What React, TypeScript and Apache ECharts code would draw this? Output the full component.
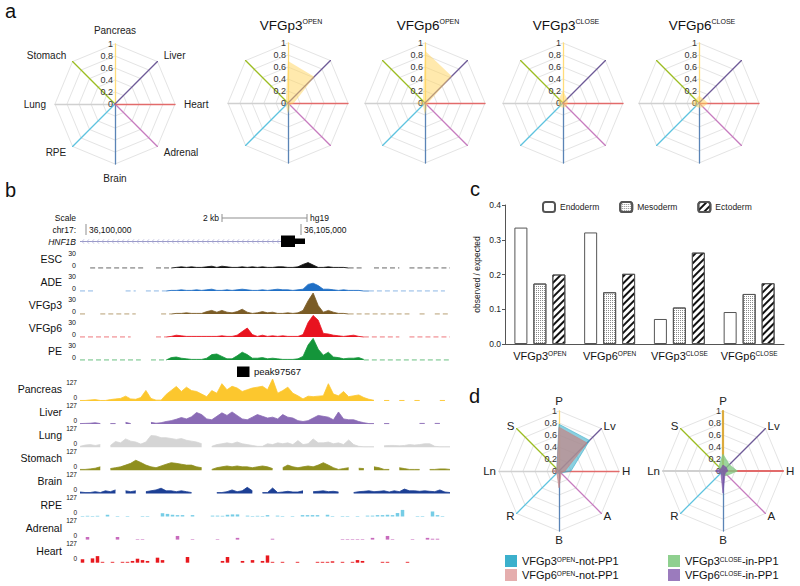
import React, { useEffect, useRef } from 'react';
import * as echarts from 'echarts';

const FONT = '"Liberation Sans", Arial, Helvetica, sans-serif';
const _ = null;

// ---------- Panel a / d radar data (ECharts order, counter-clockwise from top) ----------
const tissues = ['Pancreas', 'Stomach', 'Lung', 'RPE', 'Brain', 'Adrenal', 'Heart', 'Liver'];
const tissueAbbr = ['P', 'S', 'Ln', 'R', 'B', 'A', 'H', 'Lv'];

const aTitles = ['VFGp3^OPEN', 'VFGp6^OPEN', 'VFGp3^CLOSE', 'VFGp6^CLOSE'];
const aVFGp3Open = [0.7, 0.05, 0.03, 0.05, 0.18, 0.05, 0.1, 0.62];
const aVFGp6Open = [0.87, 0.05, 0.15, 0.05, 0.2, 0.05, 0.05, 0.63];
const aVFGp3Close = [0.2, 0.1, 0.08, 0.08, 0.08, 0.08, 0.08, 0.1];
const aVFGp6Close = [0.12, 0.08, 0.13, 0.08, 0.08, 0.1, 0.15, 0.1];

const dNames = ['VFGp3^OPEN-not-PP1', 'VFGp6^OPEN-not-PP1', 'VFGp3^CLOSE-in-PP1', 'VFGp6^CLOSE-in-PP1'];
const dOpen3 = [0.78, 0.05, 0.03, 0.03, 0.05, 0.05, 0.2, 0.72];
const dOpen6 = [0.73, 0.05, 0.1, 0.05, 0.28, 0.05, 0.1, 0.66];
const dClose3 = [0.28, 0.1, 0.05, 0.05, 0.08, 0.1, 0.24, 0.15];
const dClose6 = [0.1, 0.05, 0.13, 0.05, 0.37, 0.05, 0.08, 0.08];

// ---------- Panel c ----------
const barCategories = ['VFGp3^OPEN', 'VFGp6^OPEN', 'VFGp3^CLOSE', 'VFGp6^CLOSE'];
const layerNames = ['Endoderm', 'Mesoderm', 'Ectoderm'];
const endoderm = [0.335, 0.321, 0.072, 0.092];
const mesoderm = [0.174, 0.149, 0.105, 0.144];
const ectoderm = [0.2, 0.202, 0.263, 0.175];
const barTicks = [0, 0.1, 0.2, 0.3, 0.4];

// ---------- Panel b tracks (74 bins of ~5 px, chr17 window) ----------
const upperNames = ['ESC', 'ADE', 'VFGp3', 'VFGp6', 'PE'];
const upperMax = 30;
const escMain = [_,_,_,_,_,_,_,_,_,_, _,_,_,_,_,_,_,_,0,1, 2,1,2,1,1,2,3,1,3,2, 1,1,2,1,2,1,2,1,1,2, 2,1,1,2,6,9,5,1,1,2, 1,1,1,0,_,_,_,_,_,_, _,_,_,_,_,_,_,_,_,_, _,_,_,_];
const escFaint = [_,_,0,0,0,0,0,0,0,0, 0,0,0,0,_,0,0,0,0,_, _,_,_,_,_,_,_,_,_,_, _,_,_,_,_,_,_,_,_,_, _,_,_,_,_,_,_,_,_,_, _,_,_,0,0,0,0,_,0,0, 0,0,0,0,_,0,0,0,0,0, 0,0,0,0];
const adeMain = [_,_,_,_,_,_,_,_,_,_, _,_,_,_,_,_,_,0,1,1, 2,1,1,2,1,2,3,1,1,2, 1,2,3,2,1,1,2,1,2,3, 2,2,1,2,3,11,13,9,3,3, 2,1,2,1,1,1,0,0,_,_, _,_,_,_,_,_,_,_,_,_, _,_,_,_];
const adeFaint = [0,0,0,0,_,_,_,_,_,0, 0,0,_,0,0,0,0,0,_,_, _,_,_,_,_,_,_,_,_,_, _,_,_,_,_,_,_,_,_,_, _,_,_,_,_,_,_,_,_,_, _,_,_,_,_,_,_,0,0,0, 0,0,0,0,0,0,0,0,0,0, 0,0,0,_];
const vfgp3Main = [_,_,_,_,_,_,_,_,_,_, _,_,_,_,_,_,_,_,0,1, 1,2,1,1,1,4,6,3,6,3, 2,4,8,3,1,2,4,2,3,1, 1,2,1,2,6,22,35,14,3,6, 3,1,1,0,_,_,_,_,_,_, _,_,_,_,_,_,_,_,_,_, _,_,_,_];
const vfgp3Faint = [0,0,_,_,0,0,0,0,0,0, 0,0,_,_,_,_,0,0,0,_, _,_,_,_,_,_,_,_,_,_, _,_,_,_,_,_,_,_,_,_, _,_,_,_,_,_,_,_,_,_, _,_,_,0,0,0,0,0,0,0, 0,0,0,0,0,0,_,0,0,_, 0,0,0,0];
const vfgp6Main = [_,_,_,_,_,_,_,_,_,_, _,_,_,_,_,_,_,0,1,3, 2,1,1,1,1,1,1,1,2,1, 1,3,9,15,4,1,3,1,2,1, 2,1,1,1,4,24,36,28,6,5, 3,2,1,2,3,1,0,_,_,_, _,_,_,_,_,_,_,_,_,_, _,_,_,_];
const vfgp6Faint = [0,0,0,0,0,0,0,0,0,0, 0,_,_,_,_,0,0,0,_,_, _,_,_,_,_,_,_,_,_,_, _,_,_,_,_,_,_,_,_,_, _,_,_,_,_,_,_,_,_,_, _,_,_,_,_,_,0,0,0,0, 0,0,0,0,_,0,0,0,0,0, 0,0,0,0];
const peMain = [_,_,_,_,_,_,_,_,_,_, _,_,_,_,_,_,_,0,4,5, 3,2,1,1,1,3,9,10,6,2, 2,7,13,9,3,3,4,2,3,2, 1,1,1,2,6,25,36,18,8,13, 5,4,2,3,3,4,1,_,_,_, _,_,_,_,_,_,_,_,_,_, _,_,_,_];
const peFaint = [0,0,0,0,0,0,0,0,0,0, 0,0,0,_,0,0,0,0,_,_, _,_,_,_,_,_,_,_,_,_, _,_,_,_,_,_,_,_,_,_, _,_,_,_,_,_,_,_,_,_, _,_,_,_,_,_,0,0,0,0, 0,0,0,0,0,0,0,0,0,0, 0,0,0,0];

const lowerNames = ['Pancreas', 'Liver', 'Lung', 'Stomach', 'Brain', 'RPE', 'Adrenal', 'Heart'];
const lowerMax = 127;
const pancreas = [3,3,6,8,3,3,8,12,15,28, 12,10,20,61,15,5,5,38,61,84, 55,80,60,55,40,25,60,45,100,65, 85,75,55,65,75,80,85,65,127,45, 60,80,45,30,12,28,25,28,30,100, 40,30,55,25,30,35,20,10,4,_, 3,3,_,3,3,_,3,3,_,_, _,3,3,_];
const liver = [3,4,5,8,3,_,3,3,_,10, 3,_,_,_,10,5,8,15,20,28, 38,30,42,67,55,30,25,45,65,50, 70,50,30,25,40,55,45,35,40,30, 55,40,35,20,15,20,35,50,45,40, 25,70,30,25,25,15,8,3,3,_, 3,3,_,_,_,_,_,4,4,_, 4,4,_,_];
const lung = [5,12,15,10,15,_,10,33,25,48, 35,30,18,30,67,65,55,55,50,45, 50,40,35,30,20,_,5,15,20,25, 20,30,20,15,10,5,5,20,15,25, 20,25,15,38,15,20,48,25,25,30, 20,25,15,42,15,5,3,3,3,_, 8,10,10,8,10,15,12,15,20,20, 5,3,3,3];
const stomach = [5,5,8,12,20,_,10,15,20,30, 40,58,45,30,20,15,25,35,44,40, 35,30,30,20,15,_,5,15,20,25, 20,25,20,20,15,20,25,20,10,_, 15,30,20,15,20,25,20,30,44,30, 15,5,10,15,_,12,10,_,20,15, 5,5,_,15,10,5,5,5,_,5, 5,8,8,5];
const brain = [8,5,5,10,5,15,10,20,_,15, 10,15,_,10,15,20,30,15,15,10, 15,10,5,_,_,_,_,5,5,10, 20,10,15,35,15,_,5,5,31,5, 8,12,8,8,15,_,10,12,15,10, 12,8,_,_,5,10,12,15,10,12, 15,8,15,10,25,15,15,12,15,12, 10,20,8,5];
const rpe = [3,4,3,4,_,10,_,3,_,3, _,_,3,3,_,_,19,15,10,8, 8,_,8,_,_,_,5,5,4,10, 12,12,_,5,3,4,3,8,_,5, 3,_,3,_,8,8,8,8,_,10, 3,_,3,3,_,3,_,5,5,8, 8,10,8,20,38,_,_,3,3,_, 29,8,3,_];
const adrenal = [_,15,_,_,_,_,_,15,_,_, _,3,3,_,_,_,_,_,_,21, _,_,3,_,_,_,_,3,_,_, _,10,_,_,_,_,_,_,5,_, _,_,_,_,_,_,_,_,_,_, _,_,3,3,3,3,3,_,10,_, _,21,3,_,_,_,3,_,_,10, 5,5,_,_];
const heart = [20,_,25,38,5,_,5,_,5,5, 10,23,15,10,_,29,15,_,_,_, _,33,_,_,_,_,_,_,10,33, _,_,10,_,15,_,10,42,5,_, 5,_,_,5,_,_,_,5,5,5, 8,_,5,_,5,15,10,_,_,_, 5,5,_,_,_,5,_,_,_,_, _,_,_,_];

const upperMain = [escMain, adeMain, vfgp3Main, vfgp6Main, peMain];
const upperFaint = [escFaint, adeFaint, vfgp3Faint, vfgp6Faint, peFaint];
const lowerData = [pancreas, liver, lung, stomach, brain, rpe, adrenal, heart];

// ---------- styles ----------
const spokeColors = ['#ffdc7a', '#9cbd22', '#d0d0d0', '#5ec3df', '#5a84b6', '#c77cbf', '#e26b6b', '#6f5b98'];
const upperColors = ['#111111', '#1f6fc5', '#7b5c26', '#e8131f', '#14953a'];
const upperFaintColors = ['#8c8c8c', '#a9c9ec', '#c9b796', '#f2989c', '#8fd0a0'];
const lowerColors = ['#fcc72e', '#8a6bb5', '#d5d5d5', '#8f8f1f', '#1c3f94', '#76cde6', '#c86bbd', '#e8191f'];
const sparseTracks = ['RPE', 'Adrenal', 'Heart'];

function richLabel(s: string) {
  const parts = s.split('^');
  if (parts.length === 1) return `{m|${s}}`;
  const m = parts[1].match(/^([A-Z]+)(.*)$/);
  if (!m) return `{m|${parts[0]}}{s|${parts[1]}}`;
  return `{m|${parts[0]}}{s|${m[1]}}` + (m[2] ? `{m|${m[2]}}` : '');
}

function makeRadar(center: number[], names: string[] | null, nameSize: number, nameGap: number, boldSpokes: boolean) {
  return {
    center,
    radius: 60,
    startAngle: 90,
    splitNumber: 5,
    shape: 'polygon',
    nameGap,
    axisName: { show: !!names, color: '#222', fontSize: nameSize, fontFamily: FONT },
    indicator: tissues.map((t, k) => ({
      name: names ? names[k] : '',
      min: 0,
      max: 1,
      axisLine: {
        lineStyle: {
          color: boldSpokes && k === 0 ? '#dcab3e' : spokeColors[k],
          width: boldSpokes && (k === 0 || k === 2 || k === 6) ? 2.2 : 1.3,
        },
      },
      axisLabel: { show: k === 0 },
    })),
    splitLine: { lineStyle: { color: '#e4e4e4', width: 1 } },
    splitArea: { show: false },
    axisLine: { show: true, lineStyle: { color: '#ccc', width: 1.3 } },
    axisTick: { show: false },
    axisLabel: { show: false, color: '#333', fontSize: 9, fontFamily: FONT, margin: 2 },
  };
}

function buildOption() {
  const radarCenters = [[115, 104], [288, 103], [425, 103], [563, 103], [699, 103], [559, 471], [723, 471]];
  const radar = radarCenters.map((c, i) =>
    makeRadar(c, i === 0 ? tissues : i >= 5 ? tissueAbbr : null, i >= 5 ? 11.5 : 10, i >= 5 ? 3 : 9, i === 6));

  const series: any[] = [];
  const aSets = [aVFGp3Open, aVFGp6Open, aVFGp3Close, aVFGp6Close];
  aSets.forEach((v, i) => {
    series.push({
      type: 'radar', radarIndex: i + 1, symbol: 'none', silent: true,
      lineStyle: { width: 0, opacity: 0 },
      areaStyle: { color: '#ffd35c', opacity: 0.5 },
      data: [{ value: v, name: aTitles[i] }],
    });
  });
  const dSets = [dOpen3, dOpen6, dClose3, dClose6];
  const dColors = ['#3cb0cc', '#c48585', '#84c984', '#7a52a6'];
  const dSwatch = ['#3cb0cc', '#e5aeae', '#8fd08f', '#9b7bbd'];
  const dOpacity = [0.6, 0.7, 0.8, 0.8];
  dSets.forEach((v, i) => {
    series.push({
      type: 'radar', name: dNames[i], radarIndex: i < 2 ? 5 : 6, symbol: 'none', silent: true,
      itemStyle: { color: dSwatch[i] },
      lineStyle: { width: 0.6, color: dColors[i] },
      areaStyle: { color: dColors[i], opacity: dOpacity[i] },
      data: [{ value: v, name: dNames[i], itemStyle: { color: dSwatch[i] } }],
    });
  });

  // tracks
  const grid: any[] = [];
  const xAxis: any[] = [];
  const yAxis: any[] = [];
  const bins = upperMain[0].map((_v, i) => String(i));
  const graphic: any[] = [];
  const txt = (text: string, x: number, y: number, size: number, align = 'left', extra: any = {}) => ({
    type: 'text', silent: true,
    style: { text, x, y, fontSize: size, fontFamily: FONT, fill: '#111', align, verticalAlign: 'middle', ...extra },
  });

  upperNames.forEach((name, i) => {
    const base = 268 + 23 * i;
    grid.push({ left: 80, width: 370, top: base - 18, height: 18 });
    xAxis.push({ type: 'category', gridIndex: i, data: bins, show: false, boundaryGap: false });
    yAxis.push({ type: 'value', gridIndex: i, min: 0, max: upperMax, show: false });
    series.push({
      type: 'line', xAxisIndex: i, yAxisIndex: i, data: upperFaint[i], symbol: 'none', silent: true,
      lineStyle: { color: upperFaintColors[i], width: 1.3, type: [5, 3] }, z: 2,
    });
    series.push({
      type: 'line', xAxisIndex: i, yAxisIndex: i, data: upperMain[i], symbol: 'none', silent: true, clip: false,
      lineStyle: { color: upperColors[i], width: 0.8 }, areaStyle: { color: upperColors[i], opacity: 1 }, z: 3,
    });
    graphic.push(txt(name, 62, base - 9, 10.5, 'right'));
    graphic.push(txt(String(upperMax), 76, base - 15, 7, 'right'));
    graphic.push(txt('0', 76, base - 3, 7, 'right'));
  });
  lowerNames.forEach((name, j) => {
    const i = j + 5;
    const base = 401 + 23.1 * j;
    const sparse = sparseTracks.includes(name);
    grid.push({ left: 80, width: 370, top: base - 22, height: 22 });
    xAxis.push({ type: 'category', gridIndex: i, data: bins, show: false, boundaryGap: sparse });
    yAxis.push({ type: 'value', gridIndex: i, min: 0, max: lowerMax, show: false });
    if (sparse) {
      series.push({
        type: 'bar', xAxisIndex: i, yAxisIndex: i, data: lowerData[j], barWidth: 3.5, silent: true,
        itemStyle: { color: lowerColors[j] },
      });
    } else {
      series.push({
        type: 'line', xAxisIndex: i, yAxisIndex: i, data: lowerData[j], symbol: 'none', silent: true, clip: false,
        lineStyle: { color: lowerColors[j], width: 0.8 }, areaStyle: { color: lowerColors[j], opacity: 1 },
      });
    }
    graphic.push(txt(name, 62, base - 12, 10.5, 'right'));
    graphic.push(txt(String(lowerMax), 77, base - 19, 6.5, 'right'));
    graphic.push(txt('0', 77, base - 4, 6.5, 'right'));
  });

  // bar chart (panel c)
  const gi = grid.length;
  grid.push({ left: 505, top: 205, width: 279, height: 139 });
  const richAxis = {
    m: { fontSize: 11, fontFamily: FONT, color: '#111' },
    s: { fontSize: 6.5, fontFamily: FONT, color: '#111', verticalAlign: 'top' },
  };
  xAxis.push({
    type: 'category', gridIndex: gi, data: barCategories,
    axisLine: { lineStyle: { color: '#555', width: 1 } },
    axisTick: { alignWithLabel: true, length: 4, lineStyle: { color: '#555' } },
    axisLabel: { formatter: (v: string) => richLabel(v), rich: richAxis, margin: 6, interval: 0 },
  });
  yAxis.push({
    type: 'value', gridIndex: gi, min: barTicks[0], max: barTicks[barTicks.length - 1], interval: 0.1,
    axisLine: { show: true, lineStyle: { color: '#555', width: 1 } },
    axisTick: { show: true, length: 3, lineStyle: { color: '#555' } },
    splitLine: { show: false },
    axisLabel: { formatter: (v: number) => v.toFixed(1), fontSize: 8.5, fontFamily: FONT, color: '#222', margin: 4 },
    name: 'observed / expected', nameLocation: 'middle', nameGap: 24, nameRotate: 90,
    nameTextStyle: { fontSize: 8.5, fontFamily: FONT, color: '#222' },
  });
  const hatch = {
    symbol: 'rect', symbolSize: 1, color: '#111', backgroundColor: 'rgba(255,255,255,0)',
    dashArrayX: [1, 0], dashArrayY: [1.6, 2.2], rotation: -Math.PI / 4,
  };
  const dots = {
    symbol: 'rect', symbolSize: 1, color: '#8a8a8a', backgroundColor: 'rgba(255,255,255,0)',
    dashArrayX: [1, 1], dashArrayY: [1, 1], rotation: 0,
  };
  const layerData = [endoderm, mesoderm, ectoderm];
  const layerDecal = [undefined, dots, hatch];
  layerNames.forEach((n, k) => {
    const itemStyle: any = { color: '#fff', borderColor: '#555', borderWidth: 1 };
    if (layerDecal[k]) itemStyle.decal = layerDecal[k];
    series.push({
      type: 'bar', name: n, xAxisIndex: gi, yAxisIndex: gi, data: layerData[k], barWidth: 13, barGap: '46%',
      silent: true, itemStyle,
    });
  });

  // panel letters & titles
  graphic.push(txt('a', 5, 11, 20));
  graphic.push(txt('b', 5, 190, 20));
  graphic.push(txt('c', 470, 189, 20));
  graphic.push(txt('d', 469, 396, 20));
  aTitles.forEach((t, i) => {
    graphic.push({
      type: 'text', silent: true,
      style: {
        text: richLabel(t), x: radarCenters[i + 1][0] + 3, y: 25, align: 'center', verticalAlign: 'middle',
        fontFamily: FONT, fill: '#111',
        rich: { m: { fontSize: 13.5, fontFamily: FONT, fill: '#111' }, s: { fontSize: 7, fontFamily: FONT, fill: '#111', verticalAlign: 'top' } },
      },
    });
  });

  // browser header rows
  const gray = '#8f8f8f';
  graphic.push(txt('Scale', 76, 218, 8.5, 'right'));
  graphic.push(txt('2 kb', 219, 218, 8.5, 'right'));
  graphic.push({ type: 'line', silent: true, shape: { x1: 222, y1: 218, x2: 307, y2: 218 }, style: { stroke: gray, lineWidth: 1 } });
  graphic.push({ type: 'line', silent: true, shape: { x1: 222, y1: 214, x2: 222, y2: 222 }, style: { stroke: gray, lineWidth: 1 } });
  graphic.push({ type: 'line', silent: true, shape: { x1: 307, y1: 214, x2: 307, y2: 222 }, style: { stroke: gray, lineWidth: 1 } });
  graphic.push(txt('hg19', 310, 218, 8.5));
  graphic.push(txt('chr17:', 76, 229.5, 8.5, 'right'));
  graphic.push({ type: 'line', silent: true, shape: { x1: 86, y1: 224, x2: 86, y2: 235 }, style: { stroke: gray, lineWidth: 1 } });
  graphic.push(txt('36,100,000', 89, 229.5, 8.5));
  graphic.push({ type: 'line', silent: true, shape: { x1: 301, y1: 224, x2: 301, y2: 235 }, style: { stroke: gray, lineWidth: 1 } });
  graphic.push(txt('36,105,000', 304, 229.5, 8.5));
  graphic.push(txt('HNF1B', 76, 242, 8.5, 'right', { fontStyle: 'italic' }));
  graphic.push({ type: 'line', silent: true, shape: { x1: 80, y1: 241.5, x2: 282, y2: 241.5 }, style: { stroke: '#9a9ac8', lineWidth: 1 } });
  for (let x = 82; x < 278; x += 5) {
    graphic.push({ type: 'polyline', silent: true, shape: { points: [[x + 2, 239.3], [x, 241.5], [x + 2, 243.7]] }, style: { stroke: '#a8a8d4', lineWidth: 0.7, fill: 'none' } });
  }
  graphic.push({ type: 'rect', silent: true, shape: { x: 281, y: 235.5, width: 14, height: 11.5 }, style: { fill: '#000' } });
  graphic.push({ type: 'rect', silent: true, shape: { x: 295, y: 238.5, width: 10, height: 5.5 }, style: { fill: '#000' } });
  graphic.push({ type: 'rect', silent: true, shape: { x: 237, y: 366.5, width: 12.5, height: 10.5 }, style: { fill: '#000' } });
  graphic.push(txt('peak97567', 254, 371.5, 9.5));

  const legendRich = {
    m: { fontSize: 11, fontFamily: FONT, color: '#111' },
    s: { fontSize: 6.5, fontFamily: FONT, color: '#111', verticalAlign: 'top' },
  };
  const legend = [
    {
      data: layerNames, left: 542, top: 201, padding: 0, itemWidth: 12, itemHeight: 10, itemGap: 20, selectedMode: false,
      textStyle: { fontSize: 8.5, fontFamily: FONT, color: '#222' },
    },
    {
      data: dNames.slice(0, 2), left: 505, top: 555, padding: 0, height: 30, orient: 'vertical', itemWidth: 12, itemHeight: 12, itemGap: 2,
      icon: 'rect', selectedMode: false, formatter: (n: string) => richLabel(n), textStyle: { rich: legendRich },
    },
    {
      data: dNames.slice(2), left: 668, top: 555, padding: 0, height: 30, orient: 'vertical', itemWidth: 12, itemHeight: 12, itemGap: 2,
      icon: 'rect', selectedMode: false, formatter: (n: string) => richLabel(n), textStyle: { rich: legendRich },
    },
  ];

  return {
    animation: false,
    backgroundColor: '#fff',
    textStyle: { fontFamily: FONT },
    radar, grid, xAxis, yAxis, series, legend, graphic,
  };
}

export default function App() {
  const ref = useRef<HTMLDivElement>(null);
  useEffect(() => {
    if (!ref.current) return;
    const chart = echarts.init(ref.current, null, { renderer: 'svg' });
    chart.setOption(buildOption() as any);
    return () => chart.dispose();
  }, []);
  return <div ref={ref} style={{ position: 'absolute', left: 0, top: 0, width: 800, height: 586 }} />;
}
